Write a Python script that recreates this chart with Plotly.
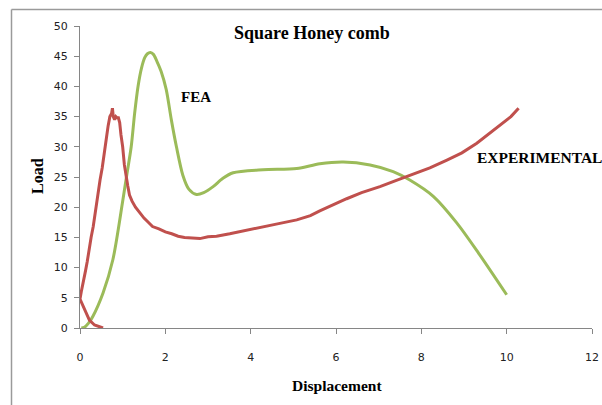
import plotly.graph_objects as go

# Experimental (red) series
exp_x = [0.54, 0.45, 0.34, 0.22, 0.11, 0.0, 0.03, 0.08, 0.13, 0.17, 0.21, 0.26, 0.31, 0.36, 0.41,
         0.47, 0.52, 0.58, 0.62, 0.66, 0.70, 0.74, 0.76, 0.78, 0.81, 0.84, 0.87, 0.90, 0.93, 0.96,
         1.00, 1.04, 1.08, 1.12, 1.16, 1.22, 1.30, 1.40, 1.50, 1.60, 1.70, 1.85, 2.00, 2.15, 2.30,
         2.45, 2.60, 2.81, 3.0, 3.2, 3.51, 3.8, 4.0, 4.29, 4.6, 5.08, 5.4, 5.62, 5.9, 6.25, 6.6,
         7.03, 7.4, 7.81, 8.2, 8.60, 8.95, 9.30, 9.6, 9.9, 10.1, 10.28]
exp_y = [0, 0.2, 0.5, 1.3, 3.0, 4.8, 6.0, 7.5, 9.5, 11.0, 13.0, 15.0, 16.8, 19.5, 21.5,
         24.5, 26.5, 30.0, 31.5, 33.5, 35.0, 35.5, 36.4, 35.0, 34.5, 35.0, 34.8, 34.8, 34.0, 32.0,
         30.0, 27.0, 25.0, 23.5, 22.0, 21.0, 20.0, 19.0, 18.2, 17.5, 16.8, 16.4, 15.9, 15.6, 15.2,
         15.0, 14.9, 14.8, 15.1, 15.2, 15.6, 16.0, 16.3, 16.7, 17.2, 17.9, 18.6, 19.4, 20.3, 21.4, 22.4,
         23.4, 24.4, 25.5, 26.5, 27.8, 29.0, 30.6, 32.2, 33.8, 35.0, 36.4]

# FEA (green) series
fea_x = [0.03, 0.10, 0.20, 0.30, 0.54, 0.77, 1.00, 1.10, 1.20, 1.28, 1.36, 1.44, 1.52, 1.58, 1.65,
         1.72, 1.80, 1.90, 2.02, 2.14, 2.26, 2.41, 2.55, 2.73, 2.90, 3.12, 3.35, 3.59, 4.29, 5.08,
         5.62, 6.17, 6.80, 7.34, 7.73, 8.28, 8.83, 9.34, 10.0]
fea_y = [0, 0.1, 0.8, 1.9, 5.8, 11.3, 21.0, 25.5, 30.0, 35.5, 40.0, 43.0, 44.8, 45.4, 45.6,
         45.3, 44.2, 42.5, 39.5, 34.5, 30.0, 25.3, 23.0, 22.1, 22.4, 23.4, 24.8, 25.7, 26.2, 26.4,
         27.2, 27.5, 27.0, 25.9, 24.5, 21.8, 17.4, 12.4, 5.5]

x_ticks = [0, 2, 4, 6, 8, 10, 12]
y_ticks = [0, 5, 10, 15, 20, 25, 30, 35, 40, 45, 50]

serif = "Liberation Serif"

fig = go.Figure()
fig.add_trace(go.Scatter(x=fea_x, y=fea_y, mode="lines", name="FEA",
                         line=dict(color="#9BBB59", width=3, shape="spline", smoothing=0.8)))
fig.add_trace(go.Scatter(x=exp_x, y=exp_y, mode="lines", name="EXPERIMENTAL",
                         line=dict(color="#C0504D", width=3)))

fig.update_layout(
    width=602, height=405, autosize=False,
    margin=dict(l=80, r=10, t=26, b=77, autoexpand=False),
    paper_bgcolor="white", plot_bgcolor="white",
    showlegend=False,
    xaxis=dict(range=[0, 12], tickvals=x_ticks, showgrid=False, zeroline=False,
               showline=True, linecolor="#868686", linewidth=1,
               ticks="outside", ticklen=5, tickcolor="#868686",
               ticklabelstandoff=14, automargin=False,
               tickfont=dict(family="DejaVu Sans", size=11, color="#222")),
    yaxis=dict(range=[0, 50], tickvals=y_ticks, showgrid=False, zeroline=False,
               showline=True, linecolor="#868686", linewidth=1,
               ticks="outside", ticklen=5, tickcolor="#868686",
               ticklabelstandoff=4, automargin=False,
               tickfont=dict(family="DejaVu Sans", size=11, color="#222")),
)

annots = [
    dict(text="<b>Square Honey comb</b>", x=312, y=33, size=18),
    dict(text="<b>FEA</b>", x=196, y=97, size=15),
    dict(text="<b>EXPERIMENTAL</b>", x=539, y=157, size=15.5),
    dict(text="<b>Displacement</b>", x=337, y=385, size=15.5),
]
for a in annots:
    fig.add_annotation(text=a["text"], xref="paper", yref="paper",
                       x=(a["x"] - 80) / 512, y=(328 - a["y"]) / 302,
                       showarrow=False, xanchor="center", yanchor="middle",
                       font=dict(family=serif, size=a["size"], color="black"))
fig.add_annotation(text="<b>Load</b>", xref="paper", yref="paper",
                   x=(37 - 80) / 512, y=(328 - 176) / 302, textangle=-90,
                   showarrow=False, xanchor="center", yanchor="middle",
                   font=dict(family=serif, size=16, color="black"))

# outer frame (left and top edges visible)
fx = (11.5 - 80) / 512
fy = (328 - 9.5) / 302
fig.add_shape(type="line", xref="paper", yref="paper", x0=fx, y0=fy, x1=fx, y1=-0.5,
              line=dict(color="#9a9a9a", width=1.5))
fig.add_shape(type="line", xref="paper", yref="paper", x0=fx, y0=fy, x1=1.1, y1=fy,
              line=dict(color="#9a9a9a", width=1.5))

fig.write_html("out.html",
               config={"displayModeBar": False, "responsive": False},
               post_script="document.body.style.margin='0';document.body.style.overflow='hidden';")
